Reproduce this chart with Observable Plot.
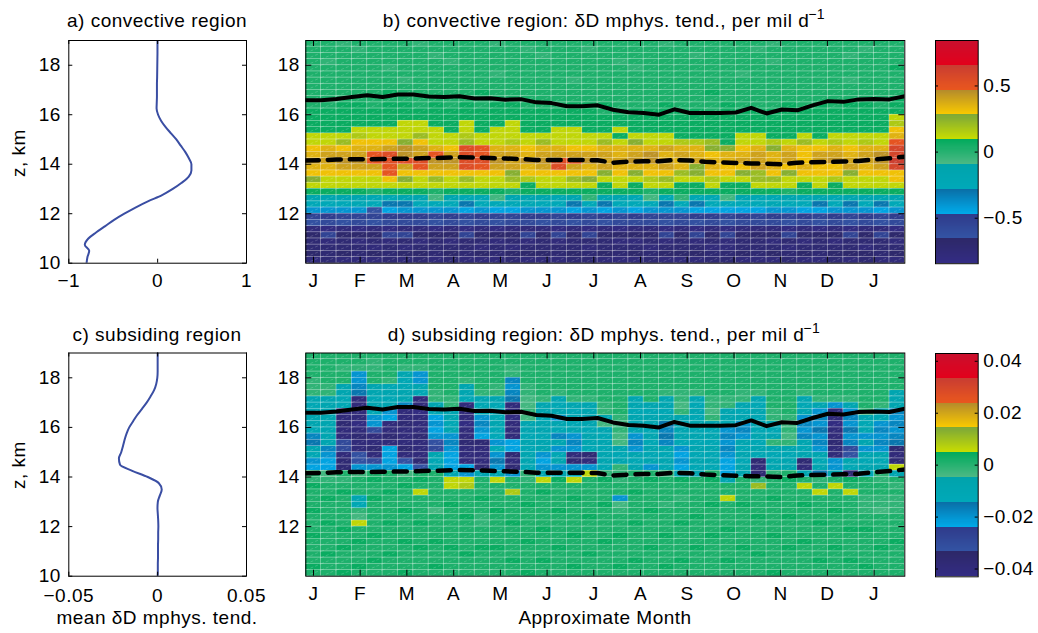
<!DOCTYPE html>
<html>
<head>
<meta charset="utf-8">
<script src="https://cdn.jsdelivr.net/npm/d3@7"></script>
<script src="https://cdn.jsdelivr.net/npm/@observablehq/plot@0.6"></script>
<style>
  body { margin: 0; background: #fff; }
  #fig { position: relative; width: 1038px; height: 633px; overflow: hidden;
         font-family: "Liberation Sans", Arial, Helvetica, sans-serif; color: #000; letter-spacing: 0.5px; }
  .lab { position: absolute; white-space: nowrap; line-height: 1; transform: translateX(-50%); }
  .rot { position: absolute; white-space: nowrap; line-height: 1; transform: translate(-50%, -50%) rotate(-90deg); }
  .sup { font-size: 14px; position: relative; top: -8px; margin-left: -1px; line-height: 0; }
</style>
</head>
<body>
<div id="fig"></div>
<script>
// ---------------------------------------------------------------- data
// height grid of the profiles (km)
const profileHeights = [10, 10.25, 10.5, 10.75, 11, 11.25, 11.5, 11.75, 12, 12.25, 12.5, 12.75,
  13, 13.25, 13.5, 13.75, 14, 14.25, 14.5, 14.75, 15, 15.25, 15.5, 15.75, 16, 16.25, 16.5, 16.75,
  17, 17.25, 17.5, 17.75, 18, 18.25, 18.5, 18.75, 19];

// mean deltaD microphysical tendency, convective region (per mil/day)
const convectiveMean = [-0.80, -0.79, -0.77, -0.82, -0.78, -0.69, -0.59, -0.49, -0.375, -0.25, -0.11, 0.05,
  0.17, 0.27, 0.35, 0.38, 0.38, 0.35, 0.31, 0.26, 0.21, 0.15, 0.09, 0.04, 0.005, -0.012, -0.01, -0.008,
  -0.008, -0.008, -0.006, -0.005, -0.004, -0.003, -0.002, -0.002, -0.002];

// mean deltaD microphysical tendency, subsiding region (per mil/day)
const subsidingMean = [0.0, 0.0001, 0.0001, 0.0002, 0.0002, 0.0002, 0.0003, 0.0003, 0.0004, 0.0003, 0.0001, -0.0001,
  0.0001, 0.0012, 0.0023, 0.0007, -0.0056, -0.0143, -0.0212, -0.0218, -0.0205, -0.0195, -0.0186, -0.0175,
  -0.0160, -0.0138, -0.0115, -0.0088, -0.0062, -0.0040, -0.0020, -0.0008, -0.0002, 0, 0, 0, 0];

// time axis: 39 ten-day bins, month labels
const binDays = 10;
const binCount = 39;
const monthDays = [5, 35.4, 65.8, 96.3, 126.7, 157.1, 187.5, 217.9, 248.3, 278.8, 309.2, 339.6, 370];
const monthLabels = ["J", "F", "M", "A", "M", "J", "J", "A", "S", "O", "N", "D", "J"];

// heights (km) of the solid and dashed reference lines at the 40 bin edges
const solidLineHeight = [16.59, 16.59, 16.64, 16.72, 16.79, 16.72, 16.82, 16.82, 16.74, 16.72,
  16.75, 16.66, 16.67, 16.61, 16.63, 16.50, 16.47, 16.34, 16.34, 16.38,
  16.20, 16.10, 16.07, 16.00, 16.22, 16.07, 16.07, 16.07, 16.09, 16.28,
  16.05, 16.21, 16.18, 16.38, 16.55, 16.52, 16.62, 16.64, 16.62, 16.75];
const dashedLineHeight = [14.15, 14.16, 14.19, 14.20, 14.20, 14.21, 14.22, 14.23, 14.25, 14.26,
  14.28, 14.27, 14.25, 14.23, 14.21, 14.17, 14.17, 14.17, 14.17, 14.16,
  14.06, 14.10, 14.12, 14.12, 14.17, 14.15, 14.10, 14.07, 14.05, 14.03,
  14.02, 14.00, 14.06, 14.08, 14.09, 14.11, 14.13, 14.19, 14.24, 14.30];

// colour-bar ranges and ticks
const convectiveRange = [-0.84375, 0.84375];
const subsidingRange = [-0.043, 0.043];
const convectiveBarTicks = [-0.5, 0, 0.5];
const subsidingBarTicks = [-0.04, -0.02, 0, 0.02, 0.04];

// Gridded tendencies, stored as colour-level codes (base 36, 0 = lowest of
// 36 equal levels across the colour-bar range, z = highest).
// Convective region: one string per 0.25 km layer, from 19 km down to 10 km,
// 39 ten-day bins per string (grouped by month).
const convectiveRows = [
  "iih iii ihi iii hii iii iii iih iii iii hii iii iii",
  "iii hii iii iii iih iii hii iii iii iih iii iii hii",
  "iii iii iih iii iii hii iii iii ihi iii iii iih iii",
  "ihi iii iii hii iii iii iih iii iii iii hii iii iii",
  "iii iih iii iii iii iii iii hii iii iii iii iii iij",
  "iii iii iii iii hii iii iii iii iii ihi iii iii iii",
  "iii iii hii iii iii iih iii iii iii iii iii iih iii",
  "iii iii iii iii iii iii iii iii iii iii iii iii iii",
  "iii iij iii iij iii iii iii iii iij iii iii iii iii",
  "iii iii iii iii iii iii iii iii iii iii iii iii iij",
  "iij jij jij iji jji iij jji iij iii jii iji jij jij",
  "jjj jjj jjj jjj jjj jjj jij jjj jji jjj jjj jjj jjj",
  "jjj jjj jjj jjj jjj jjj jjj jjj jjj jjj jjj jjj jjk",
  "jjj jjj kkj jkj jkj jjj jjj jjj jjj jjj jjj jjj jjl",
  "jjj kkk kkk jkj kkj jkk jjk jjj jjj jjj jjj jjj jjo",
  "kkk lkk kmk klk kkk kkk kkj kkk jjj jkk jjk jkk kkp",
  "kkm ooo nok kmk klk mkk kmk nkk llm jkk lkm klk lks",
  "opo ppq rqp ots ppo ppo opp ppq ppn nop npo opo ppu",
  "pqq qst rqs qts qqp qqq qqp qrp qpo ppq pqo qqp qru",
  "qqr rst ttr rtt rqr rts rqq rrq pqp pqq pqo qrq qrv",
  "ppq qqs qsq qts qqp qtq pqp ppq pnp ooq pop ooq pqu",
  "ooo oos ooo ooo ono ooo ono noo mno onm ono oon ooo",
  "nkk kko nkm kmk kml kkm nkk klm kkl kkm mkk klk kko",
  "kkk kkk kkk kkk kkj kkk kjk jkk jjk jjk kkj kjk kkk",
  "jjj jij jji jjj jij jjj jjj jij jjj jjj jij jjj jjj",
  "eee edd eeg edd gee ede hee dgd hdd ged ded ede eee",
  "ccc dcb bcc cbc ccd ccb cbc ccb cbc ccc dcc bcb cbc",
  "999 948 999 989 889 998 989 899 988 888 998 899 989",
  "676 667 776 767 667 767 676 766 677 676 767 676 767",
  "454 545 554 545 455 454 545 554 545 455 545 454 545",
  "101 010 110 101 011 101 010 110 101 011 101 010 110",
  "363 336 633 363 336 363 633 336 363 633 363 336 363",
  "212 121 212 122 121 212 221 121 212 122 121 212 221",
  "222 212 122 221 212 222 122 212 221 122 212 222 122",
  "323 232 332 323 233 323 232 323 332 232 323 233 323",
  "121 112 121 211 121 112 211 121 112 211 121 121 211"
];

// Subsiding region: one string per ten-day bin, 36 layers from 19 km down to 10 km.
const subsidingColumns = [
  "iiiihhhedeeedabed98i" + "hjiiijiiijiiiiji",
  "iiiiihheeeeeeeea988g" + "hiijiiijiiiijiii",
  "iihiieedd1121155122i" + "hijiiiiijiijiiij",
  "iih99ab111101211449g" + "iiiedhgkiijiiiji",
  "ihhiieeded995112159i" + "jiijiiiiijiiijii",
  "iiiihdede9811218889i" + "iijiiiijiiiijiii",
  "iiheddeea1121112148g" + "ijiiijiiiijiiiij",
  "iih99ed110111211124i" + "jikiiiijiiijiiii",
  "iiiiiihhed898945edei" + "iiiiigiiiijiiiji",
  "iiiiiiihheede9a9888e" + "kkiijiiiiiijiiii",
  "iiiiheed111011211189" + "kliiiijiiiiijiii",
  "iiiiiihedd9a9821112e" + "iiijiihhiiijiiii",
  "iiiiihhedededc9c9b9e" + "kiiiijiiiiijiiii",
  "iihha9ab110111882129" + "iiliiiijiiiiijii",
  "iiiiihhgghgeededeedh" + "hiiijiiiiijiiiij",
  "iiiiiiiheedeedee989e" + "kijiiiiijiiiijii",
  "iiiiiihede9edae9de9e" + "jiiiijiiiiijiiii",
  "iiiiiiihedede9a9129e" + "kiijiiiiijiiiiji",
  "iiiiiiiheededeed219k" + "iiiiiijiiiiijiii",
  "iiiiiiiihhegededeedh" + "jiiijiiiiijiiiii",
  "iiiiiiiiiihghggedehh" + "hii9ghiiijiiiiji",
  "iiiiiiieedede9a9edei" + "iijiiiijiiiiijii",
  "iiiiiiiiedeededede9i" + "jiiiijiiiiijiiii",
  "iiiiiiheedebabaededh" + "iiiihiiiijiiiiji",
  "iiiiiihhghedeed9898e" + "jiihiiijiiiiijii",
  "iiiiiihedededededede" + "iiiiiijiiiijiiii",
  "iiiiiiihhghededededi" + "jiiijiiiijiiiiii",
  "iiiiiiihheed9a9a9888" + "eiikiiiijiiiijii",
  "iiiiiihhede9a9ededee" + "iiiijiiiiiijiiii",
  "iiiiiihededededed212" + "hmiiiijiiiiijiii",
  "iiiiiiiiihhedehedeeh" + "iiijiiiiijiiiiij",
  "iiiiiiiiiihghghedeei" + "jiiiiijiiiijiiii",
  "iiiiiihede9a9aede21e" + "ikiijiiiiijiiiii",
  "iiiiiiihe9a9b9a9edeb" + "hikiiiijiiiiijii",
  "iiiiiiih91101121199e" + "ikiiijiiiiijiiii",
  "iiiiiiihe9a9b9a54ed2" + "jikiiiiijiiiijii",
  "iiiiiiiiihede9e9eded" + "iiihhhiijiiiiiji",
  "iiiiiiiihee9a9a9edeh" + "hiihhgiiiiijiiii",
  "iiiiiieeea9a9ab212ke" + "ihihhhiiiijiiiii"
];

// stepped colour map: 9 bands, each shaded from its lower to its upper colour
const bandColors = [
  ["#332c84", "#2d2868"],
  ["#3354a4", "#2f3a8a"],
  ["#00aae9", "#0a6ea6"],
  ["#00a9b9", "#00a3ab"],
  ["#4db985", "#00aa5c"],
  ["#c9dd00", "#7da838"],
  ["#f9c900", "#b48b2c"],
  ["#e9571e", "#c83c32"],
  ["#e3001b", "#c8102e"]
];

// ---------------------------------------------------------------- helpers
const FONT = '"Liberation Sans", Arial, Helvetica, sans-serif';
const FS = 19;
const fmt = d3.format("");
const LEVELS = 36;

function steppedColor(t) {
  const u = Math.max(0, Math.min(0.999999, t)) * bandColors.length;
  const k = Math.floor(u);
  return d3.interpolateRgb(bandColors[k][0], bandColors[k][1])(u - k);
}

function levelValue(ch, [lo, hi]) {
  const code = parseInt(ch, 36);
  if (!(code >= 0 && code < LEVELS)) throw new Error("bad level code " + ch);
  return lo + (code + 0.5) * (hi - lo) / LEVELS;
}

function cell(bin, layer, value) {
  return {x1: bin * binDays, x2: (bin + 1) * binDays,
          y1: 10 + layer * 0.25, y2: 10 + (layer + 1) * 0.25, value};
}

function cellsFromRows(rows, range) {
  const out = [];
  if (rows.length !== LEVELS) throw new Error("rows: " + rows.length);
  rows.forEach((row, i) => {
    const s = row.replace(/\s/g, "");
    if (s.length !== binCount) throw new Error("row " + i + " length " + s.length);
    [...s].forEach((ch, b) => out.push(cell(b, LEVELS - 1 - i, levelValue(ch, range))));
  });
  return out;
}

function cellsFromColumns(cols, range) {
  const out = [];
  if (cols.length !== binCount) throw new Error("columns: " + cols.length);
  cols.forEach((col, b) => {
    if (col.length !== LEVELS) throw new Error("column " + b + " length " + col.length);
    [...col].forEach((ch, i) => out.push(cell(b, LEVELS - 1 - i, levelValue(ch, range))));
  });
  return out;
}

const baseStyle = {fontFamily: FONT, fontSize: FS + "px", letterSpacing: "0.5px",
  background: "none", overflow: "visible", color: "#000"};
const fig = document.getElementById("fig");

function place(node, left, top) {
  node.style.position = "absolute";
  node.style.left = left + "px";
  node.style.top = top + "px";
  fig.appendChild(node);
}

function label(html, cx, baseline) {
  const d = document.createElement("div");
  d.className = "lab";
  d.style.fontSize = FS + "px";
  d.innerHTML = html;
  d.style.left = cx + "px";
  d.style.top = (baseline - 0.8465 * FS) + "px";
  fig.appendChild(d);
}

function rotatedLabel(text, cx, cy) {
  const d = document.createElement("div");
  d.className = "rot";
  d.style.fontSize = FS + "px";
  d.textContent = text;
  d.style.left = cx + "px";
  d.style.top = cy + "px";
  fig.appendChild(d);
}

// MATLAB-style inward ticks on all four sides
function innerTicks(xs, ys, fw, fh, len) {
  return [
    Plot.tickX(xs, {x: d => d, insetTop: fh - len, stroke: "#000"}),
    Plot.tickX(xs, {x: d => d, insetBottom: fh - len, stroke: "#000"}),
    Plot.tickY(ys, {y: d => d, insetRight: fw - len, stroke: "#000"}),
    Plot.tickY(ys, {y: d => d, insetLeft: fw - len, stroke: "#000"})
  ];
}

// ---------------------------------------------------------------- panels
function profilePanel(values, xDomain, xTicks, top, mt, mb, xPad) {
  const W = 270, H = 300, ml = 68.3, mr = 24;
  const fw = W - ml - mr, fh = H - mt - mb;
  const data = profileHeights.map((z, i) => ({z, v: values[i]}));
  const yTicks = [10, 12, 14, 16, 18];
  const p = Plot.plot({
    width: W, height: H, marginLeft: ml, marginRight: mr, marginTop: mt, marginBottom: mb,
    style: baseStyle,
    x: {domain: xDomain, axis: null},
    y: {domain: [10, 19], axis: null},
    marks: [
      Plot.line(data, {x: "v", y: "z", stroke: "#3a4ea3", strokeWidth: 2, curve: "monotone-y", clip: true}),
      ...innerTicks(xTicks, yTicks, fw, fh, 4),
      Plot.axisX(xTicks, {tickSize: 0, tickPadding: xPad, tickFormat: fmt, label: null}),
      Plot.axisY(yTicks, {tickSize: 0, tickPadding: 8, tickFormat: fmt, label: null}),
      Plot.frame({stroke: "#000"})
    ]
  });
  place(p, 0, top);
}

const lineData = solidLineHeight.map((z, k) => ({day: k * binDays, solid: z, dashed: dashedLineHeight[k]}));

function heatPanel(cells, range, top, mt, mb) {
  const W = 660, H = 300, ml = 45.3, mr = 15.7;
  const fw = W - ml - mr, fh = H - mt - mb;
  const yTicks = [12, 14, 16, 18];
  const labelOf = new Map(monthDays.map((d, i) => [d, monthLabels[i]]));
  const p = Plot.plot({
    width: W, height: H, marginLeft: ml, marginRight: mr, marginTop: mt, marginBottom: mb,
    style: baseStyle,
    x: {domain: [0, binCount * binDays], axis: null},
    y: {domain: [10, 19], axis: null},
    color: {type: "linear", domain: range, interpolate: steppedColor},
    marks: [
      Plot.rect(cells, {x1: "x1", x2: "x2", y1: "y1", y2: "y2", fill: "value", shapeRendering: "crispEdges"}),
      Plot.rect(cells, {x1: "x1", x2: "x2", y1: "y1", y2: "y2", fill: "none",
        stroke: "#fff", strokeOpacity: 0.28, strokeWidth: 0.7}),
      Plot.link(cells, {x1: "x1", y1: "y1", x2: "x2", y2: "y2",
        stroke: "#fff", strokeOpacity: 0.3, strokeWidth: 0.6, strokeDasharray: "3,2"}),
      Plot.line(lineData, {x: "day", y: "solid", stroke: "#000", strokeWidth: 4, clip: true}),
      Plot.line(lineData, {x: "day", y: "dashed", stroke: "#000", strokeWidth: 4.5,
        strokeDasharray: "13,9", clip: true}),
      ...innerTicks(monthDays, yTicks, fw, fh, 6),
      Plot.axisX(monthDays, {tickSize: 0, tickPadding: 10.5, tickFormat: d => labelOf.get(d), label: null}),
      Plot.axisY(yTicks, {tickSize: 0, tickPadding: 6, tickFormat: fmt, label: null}),
      Plot.frame({stroke: "#000"})
    ]
  });
  place(p, 260, top);
}

function colorbar(range, ticks, top, mt, mb) {
  const W = 113, H = 300, ml = 10, mr = 60.3;
  const fw = W - ml - mr;
  const [lo, hi] = range;
  const n = 216;
  const steps = d3.range(n).map(i => ({
    y1: lo + (hi - lo) * i / n, y2: lo + (hi - lo) * (i + 1) / n, v: lo + (hi - lo) * (i + 0.5) / n
  }));
  const p = Plot.plot({
    width: W, height: H, marginLeft: ml, marginRight: mr, marginTop: mt, marginBottom: mb,
    style: baseStyle,
    x: {domain: [0, 1], axis: null},
    y: {domain: range, axis: null},
    color: {type: "linear", domain: range, interpolate: steppedColor},
    marks: [
      Plot.rect(steps, {x1: () => 0, x2: () => 1, y1: "y1", y2: "y2", fill: "v", shapeRendering: "crispEdges"}),
      Plot.tickY(ticks, {y: d => d, insetRight: fw - 3, stroke: "#000"}),
      Plot.tickY(ticks, {y: d => d, insetLeft: fw - 3, stroke: "#000"}),
      Plot.axisY(ticks, {anchor: "right", tickSize: 0, tickPadding: 5, tickFormat: fmt, label: null}),
      Plot.frame({stroke: "#000"})
    ]
  });
  place(p, 925, top);
}

// ---------------------------------------------------------------- draw
profilePanel(convectiveMean, [-1, 1], [-1, 0, 1], 0, 40, 37.3, 10.5);
heatPanel(cellsFromRows(convectiveRows, convectiveRange), convectiveRange, 0, 40, 37.3);
colorbar(convectiveRange, convectiveBarTicks, 0, 40, 36.8);

profilePanel(subsidingMean, [-0.05, 0.05], [-0.05, 0, 0.05], 310, 42.5, 34.3, 12);
heatPanel(cellsFromColumns(subsidingColumns, subsidingRange), subsidingRange, 310, 42.5, 34.3);
colorbar(subsidingRange, subsidingBarTicks, 310, 43, 33.7);

const sup = '<span class="sup">\u22121</span>';
label("a) convective region", 157, 27);
label("b) convective region: \u03b4D mphys. tend., per mil d" + sup, 604, 27);
label("c) subsiding region", 157, 341.5);
label("d) subsiding region: \u03b4D mphys. tend., per mil d" + sup, 604, 341.5);
rotatedLabel("z, km", 18, 153);
rotatedLabel("z, km", 18, 465);
label("mean \u03b4D mphys. tend.", 157, 624.5);
label("Approximate Month", 605, 624.5);
</script>
</body>
</html>
